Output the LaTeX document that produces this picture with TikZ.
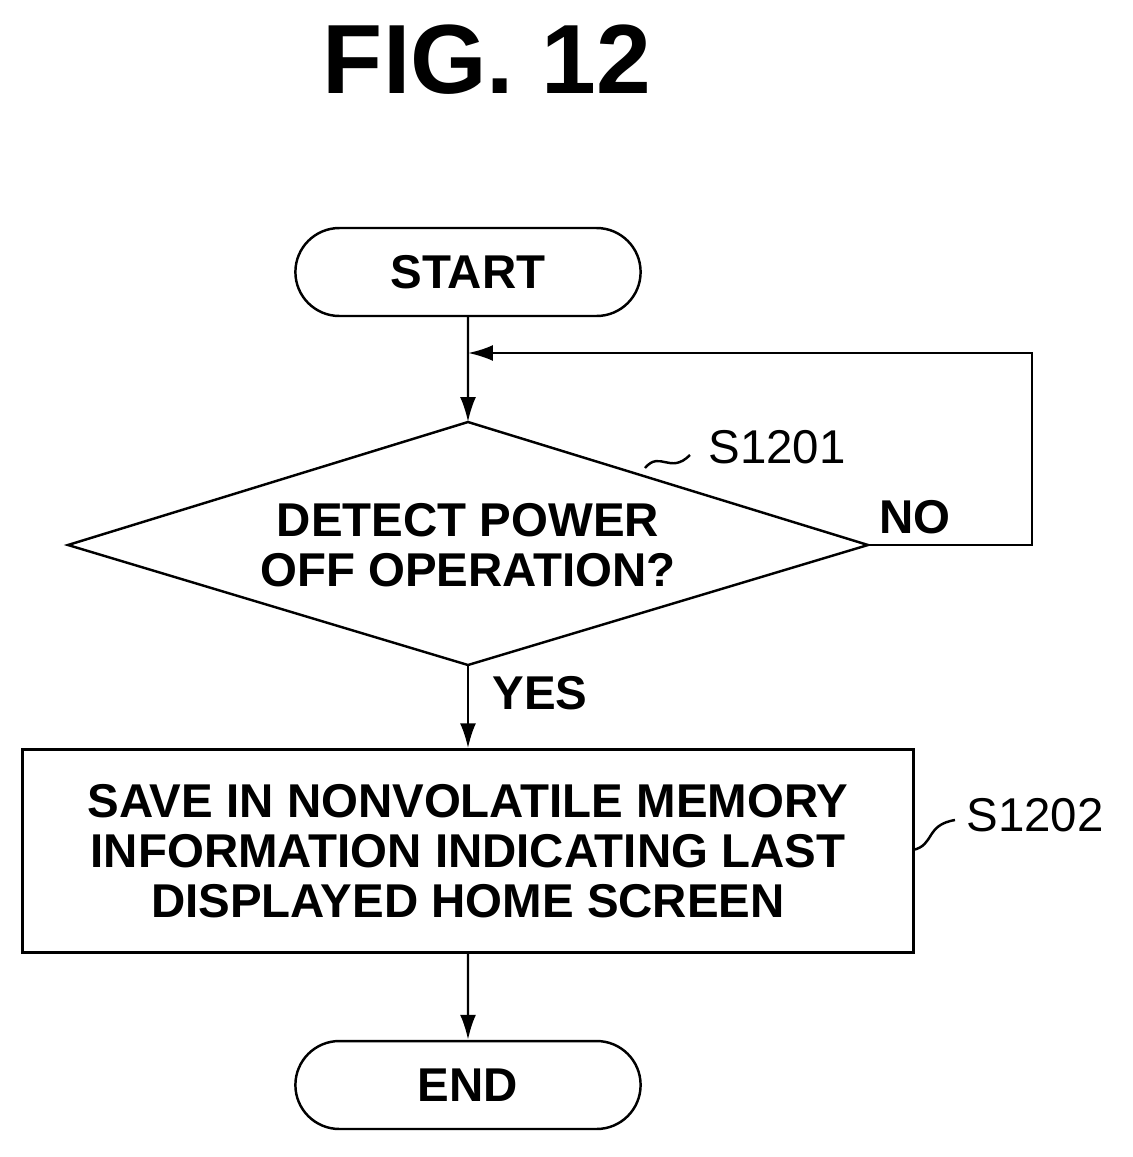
\documentclass[tikz,border=0pt]{standalone}
\usepackage{fontspec}
\setmainfont{Liberation Sans}
\usetikzlibrary{shapes.geometric, shapes.misc, positioning, arrows.meta}

\tikzset{
  flow/.style = {line width=1.4pt, -{Latex[length=5mm, width=3.2mm]}},
  term/.style = {draw, line width=1.4pt, rounded rectangle, minimum width=7.14cm, minimum height=1.76cm},
  txt/.style  = {font=\fontsize{27}{28.5}\selectfont\bfseries, align=center},
}

\begin{document}
\begin{tikzpicture}[x=0.02cm, y=-0.02cm]
    \useasboundingbox (0,0) rectangle (1133,1157);

    \node (title) at (487,60) {\fontsize{56}{60}\selectfont\bfseries FIG. 12};

    \node [term, txt] (start) at (468,272) {START};
    \coordinate (dt) at (468,422);
    \coordinate (dr) at (868,545);
    \coordinate (db) at (468,665);
    \coordinate (dl) at (68,545);
    \draw [line width=1.4pt] (dt) -- (dr) -- (db) -- (dl) -- cycle;
    \node [txt] (detect) at (468,545) {DETECT POWER\\OFF OPERATION?};

    \node [draw, line width=1.4pt, txt, minimum width=17.82cm, minimum height=4.06cm] (save) at (468,851)
      {SAVE IN NONVOLATILE MEMORY\\INFORMATION INDICATING LAST\\DISPLAYED HOME SCREEN};
    \node [term, txt] (end) at (468,1085) {END};

    \draw [flow] (start) -- (dt);
    \coordinate (loopa) at (1032,545);
    \coordinate (loopb) at (1032,353);
    \coordinate (loopc) at (468,353);
    \draw [flow] (dr) -- (loopa) -- (loopb) -- (loopc);
    \draw [flow] (db) -- (save);
    \draw [flow] (save) -- (end);

    \node [txt] (no) at (915,517) {NO};
    \node [txt] (yes) at (540,693) {YES};

    % step labels
    \node [txt, font=\fontsize{27}{28.5}\selectfont] (s1201) at (777,447) {S1201};
    \draw [line width=1.4pt] (645,468) .. controls (660,450) and (670,475) .. (690,455);
    \node [txt, font=\fontsize{27}{28.5}\selectfont] (s1202) at (1035,815) {S1202};
    \draw [line width=1.4pt] (913,850) .. controls (935,845) and (925,825) .. (955,820);
\end{tikzpicture}
\end{document}
